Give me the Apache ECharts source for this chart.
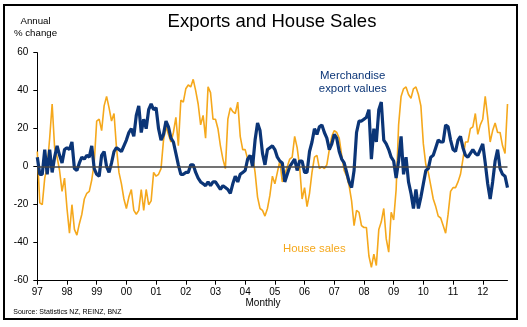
<!DOCTYPE html>
<html>
<head>
<meta charset="utf-8">
<script src="https://cdn.jsdelivr.net/npm/echarts@6/dist/echarts.min.js"></script>
<style>
html,body{margin:0;padding:0;background:#fff;}
#chart{width:527px;height:327px;}
</style>
</head>
<body>
<div id="chart"></div>
<script>
// Tick labels (years, one per January)
var yearLabels = ['97','98','99','00','01','02','03','04','05','06','07','08','09','10','11','12'];

// Monthly categories Jan 1997 .. Nov 2012
var months = [];
for (var y = 1997; y <= 2012; y++) {
  for (var mo = 1; mo <= 12; mo++) {
    if (y === 2012 && mo > 11) break;
    months.push(y + '-' + (mo < 10 ? '0' + mo : mo));
  }
}

// House sales, annual % change
var houseSales = [
  8,-19,-20,-6,0,15,33,10,5,-2,-13,-6,
  -22,-35,-20,-33,-36,-30,-25,-17,-14,-13,-7,2,
  24,25,19,32,37,31,24,28,10,-3,-9,-17,
  -22,-16,-12,-23,-25,-23,-12,-23,-12,-20,-18,-3,
  -5,-4,-1,14,21,17,13,18,26,11,35,34,
  41,43,42,46,40,33,22,27,15,42,39,25,
  25,20,11,4,-1,25,31,29,28,34,16,9,
  9,4,5,6,-3,-16,-22,-23,-26,-22,-15,-5,
  -9,-3,3,-8,-4,0,4,5,16,10,0,-17,
  -11,-21,-14,-3,5,6,-1,0,-1,1,9,16,
  19,18,15,6,-2,-5,-10,-18,-31,-23,-24,-31,
  -32,-32,-47,-53,-46,-52,-33,-29,-22,-38,-45,-24,
  -28,-12,22,37,41,42,38,36,41,42,38,32,
  12,1,-3,-10,-17,-21,-26,-27,-31,-35,-25,-13,
  -11,-11,-8,-4,4,13,13,20,21,28,17,22,
  25,37,26,13,19,23,18,18,11,7,33
];

// Merchandise export values, annual % change
var exportValues = [
  5,-4,-4,9,-4,9,-3,5,11,6,2,9,
  10,9,13,-1,-2,2,5,4,6,5,11,-1,
  -4,-5,6,8,0,-3,2,8,10,9,8,11,
  14,18,20,16,27,32,18,25,20,30,33,30,
  31,20,14,17,24,21,15,13,7,1,-4,-4,
  -3,-3,1,1,-3,-6,-8,-9,-10,-8,-10,-8,
  -8,-10,-12,-10,-11,-12,-14,-9,-5,-8,-4,-3,
  -2,4,6,0,14,23,19,7,1,9,10,11,
  9,5,3,2,-8,-4,0,2,4,-2,3,3,
  -3,-3,8,13,20,17,21,22,18,15,9,12,
  17,15,8,4,2,-3,-8,-11,-2,18,24,24,
  25,26,30,4,20,13,30,34,14,12,9,5,
  3,-6,3,16,-4,5,-8,-14,-22,-12,-22,-16,
  -9,-2,-1,5,6,10,14,13,13,22,21,14,
  9,8,14,16,10,6,5,7,9,7,6,9,
  12,2,-9,-17,-8,3,9,-1,-4,-5,-11
];

var BLUE = '#0B3577';
var ORANGE = '#F5A81C';
var FONT = '"Liberation Sans", Arial, sans-serif';

var chart = echarts.init(document.getElementById('chart'), null, {renderer: 'canvas'});
chart.setOption({
  animation: false,
  backgroundColor: '#fff',
  grid: {left: 37.3, right: 19.5, top: 52.7, bottom: 46.3, containLabel: false},
  xAxis: {
    type: 'category',
    data: months,
    boundaryGap: false,
    axisLine: {onZero: false, lineStyle: {color: '#000', width: 1}},
    axisTick: {show: true, length: 4, lineStyle: {color: '#000'},
      interval: function (i) { return i % 12 === 0; }},
    axisLabel: {
      interval: function (i) { return i % 12 === 0; },
      formatter: function (v, i) { return yearLabels[Math.floor(i / 12)]; },
      color: '#000', fontSize: 10, fontFamily: FONT, margin: 7
    },
    splitLine: {show: false}
  },
  yAxis: {
    type: 'value',
    min: -60, max: 60, interval: 20,
    axisLine: {show: true, lineStyle: {color: '#000', width: 1}},
    axisTick: {show: true, length: 4, lineStyle: {color: '#000'}},
    axisLabel: {color: '#000', fontSize: 10, fontFamily: FONT, margin: 9},
    splitLine: {show: false}
  },
  series: [
    {
      name: 'House sales',
      type: 'line',
      data: houseSales,
      showSymbol: false,
      symbol: 'none',
      lineStyle: {color: ORANGE, width: 1.6},
      z: 2,
      markLine: {
        silent: true,
        symbol: 'none',
        label: {show: false},
        lineStyle: {color: '#444', width: 1.5, type: 'solid'},
        data: [{yAxis: 0}]
      }
    },
    {
      name: 'Merchandise export values',
      type: 'line',
      data: exportValues,
      showSymbol: false,
      symbol: 'none',
      lineStyle: {color: BLUE, width: 3.2},
      z: 3
    }
  ],
  graphic: [
    {type: 'rect', shape: {x: 4, y: 5, width: 513, height: 314},
      style: {fill: 'none', stroke: '#000', lineWidth: 2}, z: 100},
    {type: 'text', x: 272, y: 22, style: {text: 'Exports and House Sales', fill: '#000',
      font: '18.5px ' + FONT, textAlign: 'center', textVerticalAlign: 'middle'}},
    {type: 'text', x: 35.5, y: 27.5, style: {text: 'Annual\n% change', fill: '#000',
      font: '9.7px ' + FONT, textAlign: 'center', textVerticalAlign: 'middle', lineHeight: 11.6}},
    {type: 'text', x: 352.7, y: 82.7, style: {text: 'Merchandise\nexport values', fill: BLUE,
      font: '11.4px ' + FONT, textAlign: 'center', textVerticalAlign: 'middle', lineHeight: 13.3}},
    {type: 'text', x: 314.3, y: 249.3, style: {text: 'House sales', fill: ORANGE,
      font: '11.4px ' + FONT, textAlign: 'center', textVerticalAlign: 'middle'}},
    {type: 'text', x: 263, y: 303.5, style: {text: 'Monthly', fill: '#000',
      font: '10px ' + FONT, textAlign: 'center', textVerticalAlign: 'middle'}},
    {type: 'text', x: 13.3, y: 311.7, style: {text: 'Source: Statistics NZ, REINZ, BNZ', fill: '#000',
      font: '7px ' + FONT, textAlign: 'left', textVerticalAlign: 'middle'}}
  ]
});
</script>
</body>
</html>
